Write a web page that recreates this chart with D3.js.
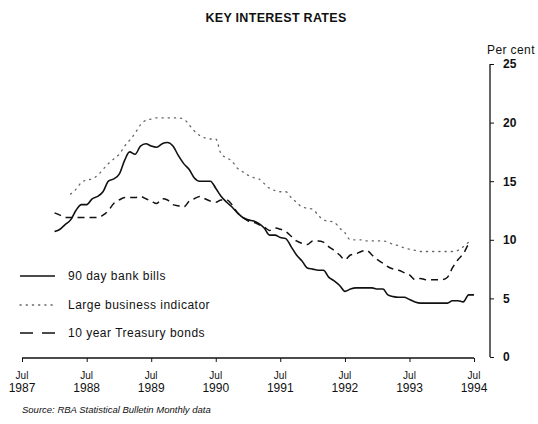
<!DOCTYPE html>
<html><head><meta charset="utf-8">
<script src="https://cdn.jsdelivr.net/npm/d3@7"></script>
<style>body{margin:0;background:#fff}svg{display:block}text{font-family:"Liberation Sans",Arial,sans-serif;fill:#111}</style>
</head><body><svg id="c" width="538" height="424"></svg>
<script>
const xTickYears = [1987,1988,1989,1990,1991,1992,1993,1994];
const yTicks = [0,5,10,15,20,25];
const billsStart = "1988-01";
const bills = [10.7,10.9,11.3,11.7,12.5,13.0,13.0,13.5,13.7,14.1,15.0,15.2,15.6,16.8,17.5,17.3,18.0,18.2,18.0,17.9,18.2,18.3,18.0,17.2,16.5,16.0,15.3,15.0,15.0,15.0,14.4,13.7,13.2,12.8,12.3,11.9,11.7,11.6,11.4,11.0,10.4,10.4,10.2,10.1,9.4,8.7,8.2,7.6,7.5,7.4,7.4,6.8,6.5,6.1,5.6,5.8,5.9,5.9,5.9,5.9,5.8,5.8,5.3,5.15,5.1,5.1,4.9,4.7,4.6,4.6,4.6,4.6,4.6,4.6,4.8,4.8,4.7,5.3,5.3];
const largeStart = "1988-04";
const large = [13.9,14.3,14.9,15.1,15.2,15.5,16.0,16.5,16.9,17.3,18.0,18.5,19.1,19.8,20.2,20.3,20.4,20.4,20.4,20.4,20.4,20.3,19.8,19.3,18.9,18.7,18.6,18.6,17.3,17.0,16.7,16.1,15.8,15.5,15.3,15.2,14.8,14.4,14.2,14.1,14.1,13.6,13.2,12.8,12.7,12.6,12.1,11.7,11.6,11.5,11.0,10.6,10.0,10.0,10.0,9.9,9.9,9.9,9.9,9.8,9.6,9.5,9.3,9.2,9.1,9.0,9.0,9.0,9.0,9.0,9.0,9.0,9.1,9.4,9.8];
const bondsStart = "1988-01";
const bonds = [12.3,12.1,11.9,11.9,11.9,11.9,11.9,11.9,11.9,12.1,12.5,13.1,13.4,13.6,13.6,13.6,13.7,13.5,13.3,13.1,13.5,13.4,13.0,12.9,12.8,13.3,13.5,13.7,13.5,13.3,13.2,13.4,13.4,13.0,12.3,11.9,11.6,11.5,11.3,11.1,10.8,11.0,10.9,10.7,10.3,9.9,9.7,9.6,9.9,9.9,9.8,9.4,9.1,8.7,8.3,8.7,8.8,9.0,9.1,8.7,8.3,8.0,7.7,7.5,7.4,7.2,7.0,6.6,6.7,6.6,6.6,6.6,6.6,6.8,7.6,8.3,8.8,9.7];
const seriesNames = ["90 day bank bills","Large business indicator","10 year Treasury bonds"];

const svg = d3.select("#c");
const parseM = d3.timeParse("%Y-%m");
const x = d3.scaleTime().domain([new Date(1987,6,1), new Date(1994,6,1)]).range([22,474]);
const y = d3.scaleLinear().domain([0,25]).range([357,64]);

function pts(start, vals){
  const s = parseM(start);
  return vals.map((v,i)=>({d:d3.timeMonth.offset(s,i), v}));
}
const line = d3.line().x(p=>x(p.d)).y(p=>y(p.v)).curve(d3.curveMonotoneX);

const styles = [
  {stroke:"#111", w:1.6, dash:null},
  {stroke:"#666", w:1.3, dash:"1.2,5"},
  {stroke:"#111", w:1.5, dash:"7,5"}
];
const data = [pts(billsStart,bills), pts(largeStart,large), pts(bondsStart,bonds)];

// title
svg.append("text").attr("x",276).attr("y",22).attr("text-anchor","middle")
  .attr("font-size",12.5).attr("letter-spacing",0.3).attr("font-weight","bold").text("KEY INTEREST RATES");
svg.append("text").attr("x",487).attr("y",54).attr("font-size",12).attr("letter-spacing",0.4).text("Per cent");

// y axis (right)
const ya = svg.append("g").attr("transform","translate(490,0)")
  .call(d3.axisRight(y).tickValues(yTicks).tickSize(4).tickPadding(9).tickFormat(d3.format("d")));
ya.select(".domain").attr("d","M0,"+y(25)+"V"+y(0)).attr("stroke","#111").attr("stroke-width",1.3);
ya.selectAll("line").attr("stroke","#111").attr("stroke-width",1);
ya.selectAll("text").attr("font-size",12).attr("font-weight","bold").attr("fill","#111")
  .style("font-family","'Liberation Sans',Arial,sans-serif");

// x axis
const xa = svg.append("g").attr("transform","translate(0,358)")
  .call(d3.axisBottom(x).tickValues(xTickYears.map(yy=>new Date(yy,6,1))).tickSize(4).tickFormat(""));
xa.select(".domain").attr("d","M"+x(new Date(1987,6,1))+",0H"+x(new Date(1994,6,1))).attr("stroke","#111").attr("stroke-width",1.3);
xa.selectAll("line").attr("stroke","#111");
const lab = svg.append("g");
xTickYears.forEach(yy=>{
  const xx = x(new Date(yy,6,1));
  lab.append("text").attr("x",xx).attr("y",379).attr("text-anchor","middle").attr("font-size",10).text("Jul");
  lab.append("text").attr("x",xx).attr("y",392).attr("text-anchor","middle").attr("font-size",12).text(yy);
});

// series
data.forEach((dd,i)=>{
  svg.append("path").datum(dd).attr("d",line).attr("fill","none")
    .attr("stroke",styles[i].stroke).attr("stroke-width",styles[i].w)
    .attr("stroke-dasharray",styles[i].dash).attr("stroke-linecap",i===1?"round":"butt");
});

// legend
const lg = svg.append("g");
[276,305,333].forEach((yy,i)=>{
  lg.append("line").attr("x1",20).attr("x2",55).attr("y1",yy).attr("y2",yy)
    .attr("stroke",styles[i].stroke).attr("stroke-width",styles[i].w)
    .attr("stroke-dasharray", i===2 ? "13,9" : styles[i].dash).attr("stroke-linecap",i===1?"round":"butt");
  lg.append("text").attr("x",68).attr("y",yy+4).attr("font-size",12).attr("letter-spacing",0.5).text(seriesNames[i]);
});

svg.append("text").attr("x",22).attr("y",413).attr("font-size",9.5).attr("font-style","italic")
  .text("Source: RBA Statistical Bulletin Monthly data");
</script></body></html>
